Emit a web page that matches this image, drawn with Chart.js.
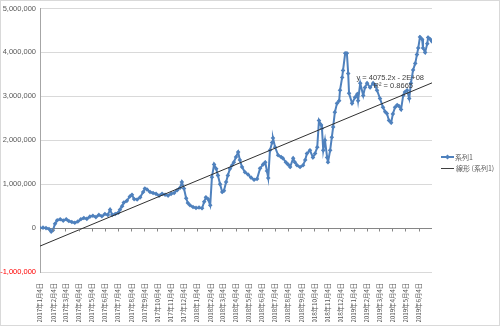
<!DOCTYPE html>
<html>
<head>
<meta charset="utf-8">
<script src="https://cdn.jsdelivr.net/npm/chart.js@4.4.1/dist/chart.umd.min.js"></script>
<style>
  html, body { margin: 0; padding: 0; background: #fff; }
  #wrap { width: 500px; height: 326px; position: relative; }
</style>
</head>
<body>
<div id="wrap"><canvas id="line-chart" width="500" height="326"></canvas></div>
<script>
// days counted from 2017-01-04
const startDate = Date.UTC(2017, 0, 4);
const dayOffsets = [
  0, 7, 14, 21, 26, 30, 35, 40, 47, 54, 61, 67, 74, 81, 88, 95, 102, 109, 116, 123,
  130, 137, 144, 151, 158, 163, 168, 175, 182, 186, 191, 195, 202, 209, 214, 219, 226, 233, 240, 244,
  249, 256, 263, 270, 277, 284, 291, 298, 305, 312, 319, 326, 330, 335, 340, 344, 349, 356, 363, 370,
  377, 382, 386, 391, 396, 400, 405, 410, 414, 419, 424, 428, 433, 437, 442, 447, 451, 456, 461, 465,
  470, 477, 484, 491, 498, 505, 512, 519, 524, 528, 531, 535, 540, 542, 547, 554, 561, 565, 572, 577,
  582, 589, 593, 598, 605, 612, 617, 621, 628, 635, 640, 645, 649, 654, 656, 659, 663, 668, 670, 675,
  679, 682, 686, 691, 696, 698, 703, 705, 710, 714, 717, 719, 726, 733, 738, 740, 745, 752, 756, 761,
  768, 775, 780, 784, 791, 798, 803, 807, 812, 817, 821, 826, 831, 835, 840, 845, 849, 854, 859, 863,
  868, 873, 877, 880, 884, 889, 891, 896, 901, 903, 908, 912
];
const seriesValues = [
  0, 10000, 0, -20000, -80000, -50000, 100000, 180000, 200000, 170000,
  200000, 160000, 140000, 120000, 150000, 200000, 230000, 210000, 260000, 280000,
  250000, 300000, 270000, 320000, 300000, 420000, 300000, 320000, 350000, 420000,
  500000, 580000, 620000, 720000, 760000, 660000, 650000, 700000, 820000, 900000,
  880000, 820000, 800000, 780000, 740000, 780000, 760000, 740000, 780000, 800000,
  860000, 920000, 1050000, 900000, 680000, 570000, 520000, 480000, 460000, 470000,
  450000, 600000, 700000, 660000, 520000, 1160000, 1450000, 1350000, 1200000, 1000000,
  820000, 850000, 1050000, 1200000, 1350000, 1430000, 1500000, 1620000, 1730000, 1550000,
  1390000, 1270000, 1220000, 1150000, 1100000, 1120000, 1360000, 1450000, 1500000, 1300000,
  1140000, 1770000, 1950000, 2050000, 1840000, 1660000, 1620000, 1590000, 1500000, 1450000,
  1390000, 1590000, 1500000, 1430000, 1390000, 1430000, 1550000, 1700000, 1770000, 1610000,
  1700000, 1840000, 2450000, 2350000, 2270000, 1770000, 2000000, 1610000, 1500000, 1770000,
  2070000, 2300000, 2640000, 2840000, 2900000, 3140000, 3430000, 3590000, 3980000, 3980000,
  3520000, 3070000, 2840000, 2980000, 3050000, 2900000, 3300000, 3020000, 3200000, 3300000,
  3200000, 3300000, 3250000, 3140000, 2950000, 2750000, 2650000, 2610000, 2450000, 2400000,
  2600000, 2750000, 2800000, 2780000, 2700000, 3020000, 3100000, 3140000, 2950000, 3300000,
  3600000, 3750000, 3950000, 4100000, 4350000, 4300000, 4100000, 4000000, 4200000, 4340000,
  4300000, 4250000
];
const yTicks = [-1000000, 0, 1000000, 2000000, 3000000, 4000000, 5000000];
const trendSlope = 4075.2;        // per day
const trendAtStart = -410000;     // value of the trendline on 2017-01-04
const trendLabel = "y = 4075.2x - 2E+08";
const r2Label = "R² = 0.8665";
const seriesName = "系列1";
const trendName = "線形 (系列1)";
const axisEnd = 912;

// month ticks: the 4th of every month, 2017-01 .. 2019-06
const monthTicks = [];
for (let i = 0; i < 30; i++) {
  monthTicks.push((Date.UTC(2017, i, 4) - startDate) / 86400000);
}

function dayLabel(v) {
  const d = new Date(startDate + v * 86400000);
  return d.getUTCFullYear() + "年" + (d.getUTCMonth() + 1) + "月" + d.getUTCDate() + "日";
}

const blue = "#4F81BD";
const cjk = "'Noto Sans CJK JP', 'Noto Sans', sans-serif";

const points = dayOffsets.map((d, i) => ({ x: d, y: seriesValues[i] }));
const trendPoints = [
  { x: 0, y: trendAtStart },
  { x: axisEnd, y: trendAtStart + trendSlope * axisEnd },
];

const extras = {
  id: "extras",
  beforeDraw(chart) {
    const c = chart.ctx;
    c.save();
    c.strokeStyle = "#d9d9d9";
    c.lineWidth = 1;
    c.strokeRect(0.5, 0.5, chart.width - 1, chart.height - 1);
    c.restore();
  },
  afterDatasetsDraw(chart) {
    const c = chart.ctx;
    const xs = chart.scales.x, ys = chart.scales.y;
    const y0 = Math.round(ys.getPixelForValue(0)) + 0.5;
    c.save();
    // tick marks on the zero line
    c.strokeStyle = "#868686";
    c.lineWidth = 1;
    monthTicks.forEach(v => {
      const px = Math.round(xs.getPixelForValue(v)) + 0.5;
      c.beginPath();
      c.moveTo(px, y0);
      c.lineTo(px, y0 + 3);
      c.stroke();
    });
    // trendline equation
    c.fillStyle = "#404040";
    c.font = "7.5px 'Liberation Sans', sans-serif";
    c.textAlign = "right";
    c.textBaseline = "middle";
    c.fillText(trendLabel, 424, 78);
    c.fillText(r2Label, 413, 86);
    // legend
    c.textAlign = "left";
    c.font = "7px " + cjk;
    c.strokeStyle = blue;
    c.lineWidth = 2;
    c.beginPath();
    c.moveTo(441, 157);
    c.lineTo(454, 157);
    c.stroke();
    c.fillStyle = blue;
    c.beginPath();
    c.moveTo(447.5, 154.5); c.lineTo(450, 157); c.lineTo(447.5, 159.5); c.lineTo(445, 157);
    c.closePath();
    c.fill();
    c.fillStyle = "#595959";
    c.fillText(seriesName, 455, 157);
    c.strokeStyle = "#404040";
    c.lineWidth = 1;
    c.beginPath();
    c.moveTo(441, 168.5);
    c.lineTo(454, 168.5);
    c.stroke();
    c.fillText(trendName, 456, 168);
    c.restore();
  }
};

new Chart(document.getElementById("line-chart").getContext("2d"), {
  type: "line",
  data: {
    datasets: [
      {
        label: trendName,
        data: trendPoints,
        borderColor: "#303030",
        borderWidth: 1,
        pointRadius: 0,
        order: 0,
      },
      {
        label: seriesName,
        data: points,
        borderColor: blue,
        backgroundColor: blue,
        borderWidth: 2,
        pointStyle: "rectRot",
        pointRadius: 2.3,
        pointBorderWidth: 0,
        pointBackgroundColor: blue,
        tension: 0,
        order: 1,
      },
    ],
  },
  options: {
    responsive: false,
    animation: false,
    events: [],
    layout: { padding: { top: 7, right: 68, bottom: 4, left: 0 } },
    plugins: { legend: { display: false }, tooltip: { enabled: false } },
    scales: {
      x: {
        type: "linear",
        min: 0,
        max: axisEnd,
        afterBuildTicks: s => { s.ticks = monthTicks.map(v => ({ value: v })); },
        afterFit: s => { s.height = 50; },
        grid: { display: false },
        border: { display: false },
        ticks: {
          autoSkip: false,
          minRotation: 90,
          maxRotation: 90,
          padding: 3,
          color: "#595959",
          font: { family: cjk, size: 6.3 },
          callback: v => dayLabel(v),
        },
      },
      y: {
        min: -1000000,
        max: 5000000,
        afterBuildTicks: s => { s.ticks = yTicks.map(v => ({ value: v })); },
        afterFit: s => { s.width = 40; },
        grid: {
          drawTicks: false,
          color: c => (c.tick && c.tick.value === 0 ? "#868686" : "#d9d9d9"),
          lineWidth: 1,
        },
        border: { display: true, color: "#a6a6a6" },
        ticks: {
          padding: 4,
          font: { family: "'Liberation Sans', sans-serif", size: 7.5 },
          color: c => (c.tick && c.tick.value < 0 ? "#ff0000" : "#595959"),
          callback: v => v.toLocaleString("en-US"),
        },
      },
    },
  },
  plugins: [extras],
});
</script>
</body>
</html>
